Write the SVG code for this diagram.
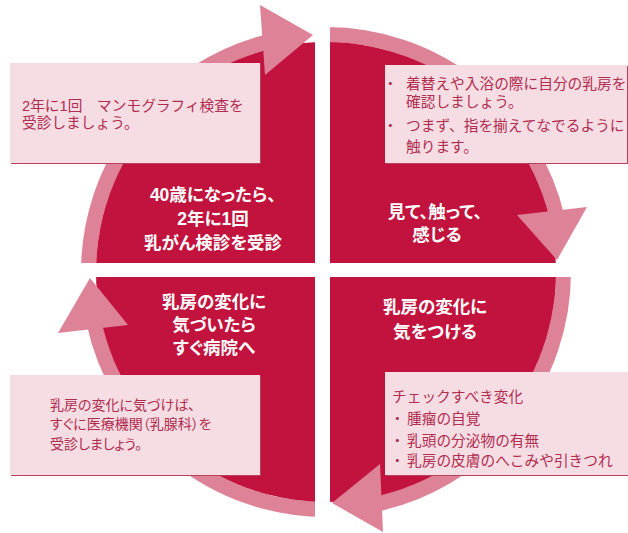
<svg xmlns="http://www.w3.org/2000/svg" width="628" height="533" viewBox="0 0 628 533">
<defs>
<style>
.shaft{fill:none;stroke:#de8298;stroke-width:15;stroke-linecap:butt}
.head{fill:#de8298}
.box{fill:#f6dce3}
.shadow{fill:#b8405d}
.lbl{font-family:"Liberation Sans","Noto Sans CJK JP",sans-serif;font-weight:bold;font-size:17.5px;fill:#ffffff;text-anchor:middle;font-feature-settings:"palt"}
.txt{font-family:"Liberation Sans","Noto Sans CJK JP",sans-serif;font-size:14.7px;fill:#b02d50}
.ptxt{font-family:"Liberation Sans","Noto Sans CJK JP",sans-serif;font-size:14px;fill:#b02d50;font-feature-settings:"palt"}
</style>
</defs>
<rect width="628" height="533" fill="#ffffff"/>
<g id="connectors">
<path class="shaft" d="M88.5,272 A237.5,237.5 0 0 1 268.5,41.6"/>
<path class="shaft" d="M326,34.5 A237.5,237.5 0 0 1 557.4,218.6"/>
<path class="shaft" d="M563.5,272 A237.5,237.5 0 0 1 375.4,504.3"/>
<path class="shaft" d="M326,509.5 A237.5,237.5 0 0 1 93.7,321.4"/>
</g>
<g id="disc">
<circle cx="326" cy="272" r="230" fill="#c1133d"/>
</g>
<g id="arrowheads">
<polygon class="head" points="260,5 313,35 265,75"/>
<polygon class="head" points="517,215 557,260 587,207"/>
<polygon class="head" points="380,464 332,503 383,532"/>
<polygon class="head" points="58,333 90,278 128,325"/>
</g>
<g id="gaps" fill="#ffffff">
<rect x="315" y="0" width="15" height="533"/>
<rect x="0" y="263" width="628" height="14"/>
</g>
<g id="node-tl">
<text class="lbl" x="213" y="201">40歳になったら、</text>
<text class="lbl" x="213" y="225">2年に1回</text>
<text class="lbl" x="213" y="249">乳がん検診を受診</text>
</g>
<g id="node-tr">
<text class="lbl" x="435" y="218">見て、触って、</text>
<text class="lbl" x="437" y="240.5">感じる</text>
</g>
<g id="node-bl">
<text class="lbl" x="214" y="308">乳房の変化に</text>
<text class="lbl" x="214" y="331">気づいたら</text>
<text class="lbl" x="214" y="354">すぐ病院へ</text>
</g>
<g id="node-br">
<text class="lbl" x="435" y="313">乳房の変化に</text>
<text class="lbl" x="435" y="338">気をつける</text>
</g>
<g id="box-tl">
<rect class="shadow" x="11" y="64" width="250" height="100"/>
<rect class="box" x="10" y="63" width="250" height="100"/>
<text class="txt" x="22" y="110.5">2年に1回　マンモグラフィ検査を</text>
<text class="txt" x="22" y="128">受診しましょう。</text>
</g>
<g id="box-tr">
<rect class="shadow" x="386" y="66" width="242" height="98"/>
<rect class="box" x="385" y="65" width="242" height="98"/>
<text class="txt" x="383" y="89">・</text>
<text class="txt" x="406" y="89">着替えや入浴の際に自分の乳房を</text>
<text class="txt" x="406" y="107">確認しましょう。</text>
<text class="txt" x="383" y="131">・</text>
<text class="txt" x="406" y="131">つまず、指を揃えてなでるように</text>
<text class="txt" x="406" y="152">触ります。</text>
</g>
<g id="box-bl">
<rect class="shadow" x="11" y="376" width="250" height="100"/>
<rect class="box" x="10" y="375" width="250" height="100"/>
<text class="ptxt" x="50" y="410">乳房の変化に気づけば、</text>
<text class="ptxt" x="50" y="429">すぐに医療機関（乳腺科）を</text>
<text class="ptxt" x="50" y="448.5">受診しましょう。</text>
</g>
<g id="box-br">
<rect class="shadow" x="386" y="373" width="242" height="103"/>
<rect class="box" x="385" y="372" width="243" height="103"/>
<text class="txt" x="392" y="402">チェックすべき変化</text>
<text class="txt" x="390" y="424">・</text>
<text class="txt" x="407" y="424">腫瘤の自覚</text>
<text class="txt" x="390" y="445.5">・</text>
<text class="txt" x="407" y="445.5">乳頭の分泌物の有無</text>
<text class="txt" x="390" y="465.5">・</text>
<text class="txt" x="407" y="465.5">乳房の皮膚のへこみや引きつれ</text>
</g>
</svg>
